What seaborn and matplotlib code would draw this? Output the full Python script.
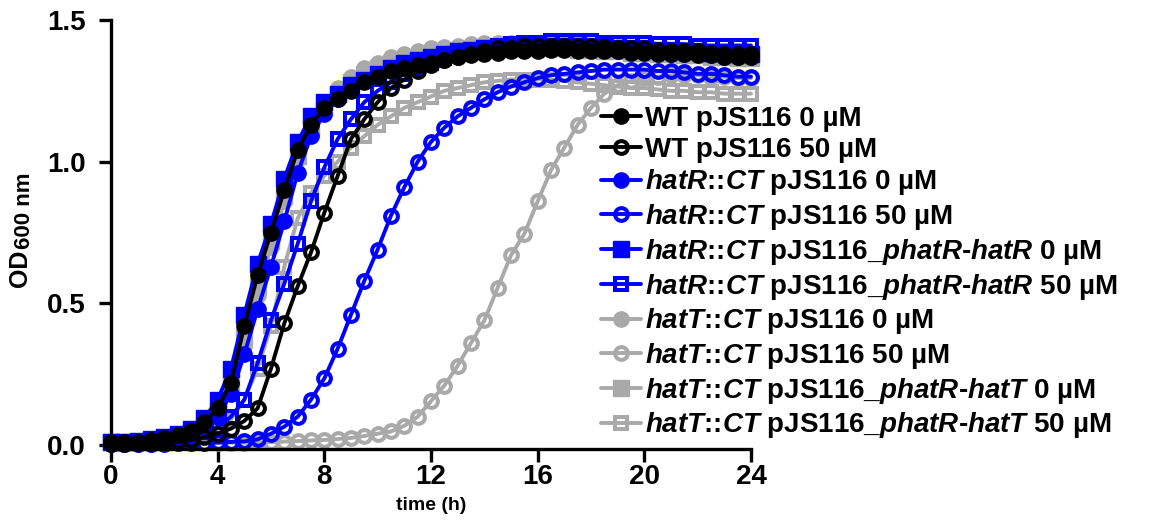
import numpy as np
import matplotlib
matplotlib.use('Agg')
import matplotlib.pyplot as plt
import seaborn as sns

# time points (h), one reading every 30 min
time_h = np.arange(0, 24.5, 0.5)

# OD600 readings
wt_0 = [0.010, 0.010, 0.012, 0.018, 0.025, 0.035, 0.050, 0.080, 0.130, 0.220,
        0.420, 0.600, 0.750, 0.900, 1.040, 1.130, 1.190, 1.220, 1.250, 1.280,
        1.300, 1.320, 1.330, 1.340, 1.350, 1.360, 1.370, 1.375, 1.380, 1.385,
        1.390, 1.390, 1.390, 1.395, 1.395, 1.390, 1.390, 1.390, 1.390, 1.385,
        1.385, 1.380, 1.380, 1.380, 1.375, 1.375, 1.370, 1.370, 1.370]
wt_50 = [0.005, 0.005, 0.006, 0.008, 0.010, 0.013, 0.018, 0.028, 0.040, 0.058,
         0.085, 0.130, 0.270, 0.430, 0.560, 0.680, 0.820, 0.950, 1.080, 1.150,
         1.210, 1.260, 1.290, 1.320, 1.340, 1.360, 1.370, 1.380, 1.390, 1.400,
         1.400, 1.410, 1.410, 1.410, 1.410, 1.410, 1.410, 1.405, 1.400, 1.400,
         1.400, 1.395, 1.390, 1.390, 1.390, 1.385, 1.380, 1.380, 1.380]
hatR_0 = [0.010, 0.008, 0.010, 0.014, 0.020, 0.028, 0.040, 0.065, 0.100, 0.180,
          0.320, 0.480, 0.630, 0.790, 0.960, 1.090, 1.170, 1.220, 1.260, 1.290,
          1.310, 1.330, 1.340, 1.350, 1.360, 1.370, 1.380, 1.385, 1.390, 1.395,
          1.400, 1.400, 1.400, 1.400, 1.400, 1.400, 1.400, 1.395, 1.390, 1.390,
          1.390, 1.385, 1.380, 1.380, 1.380, 1.375, 1.370, 1.370, 1.370]
hatR_50 = [0.005, 0.004, 0.004, 0.005, 0.005, 0.006, 0.007, 0.008, 0.009, 0.011,
           0.013, 0.020, 0.040, 0.065, 0.100, 0.160, 0.235, 0.340, 0.460, 0.580,
           0.690, 0.810, 0.910, 1.000, 1.070, 1.120, 1.160, 1.190, 1.220, 1.245,
           1.265, 1.280, 1.295, 1.305, 1.310, 1.315, 1.320, 1.325, 1.325, 1.325,
           1.325, 1.320, 1.320, 1.315, 1.310, 1.310, 1.305, 1.300, 1.300]
hatR_comp_0 = [0.012, 0.010, 0.013, 0.020, 0.027, 0.038, 0.055, 0.095, 0.160, 0.270,
               0.460, 0.640, 0.780, 0.940, 1.070, 1.160, 1.210, 1.240, 1.270, 1.290,
               1.310, 1.330, 1.350, 1.360, 1.370, 1.380, 1.390, 1.395, 1.400, 1.405,
               1.405, 1.410, 1.410, 1.410, 1.410, 1.410, 1.410, 1.405, 1.400, 1.400,
               1.400, 1.395, 1.395, 1.390, 1.390, 1.385, 1.385, 1.380, 1.380]
hatR_comp_50 = [0.010, 0.008, 0.009, 0.012, 0.016, 0.022, 0.030, 0.045, 0.065, 0.100,
                0.160, 0.290, 0.440, 0.570, 0.710, 0.860, 0.980, 1.080, 1.150, 1.210,
                1.250, 1.280, 1.310, 1.330, 1.350, 1.365, 1.380, 1.390, 1.400, 1.410,
                1.415, 1.420, 1.420, 1.425, 1.425, 1.425, 1.425, 1.420, 1.420, 1.420,
                1.420, 1.415, 1.415, 1.415, 1.410, 1.410, 1.410, 1.410, 1.410]
hatT_0 = [0.010, 0.009, 0.010, 0.013, 0.018, 0.025, 0.035, 0.060, 0.100, 0.190,
          0.350, 0.530, 0.700, 0.860, 1.010, 1.120, 1.200, 1.260, 1.300, 1.330,
          1.350, 1.370, 1.380, 1.390, 1.400, 1.405, 1.410, 1.415, 1.420, 1.420,
          1.420, 1.420, 1.420, 1.420, 1.415, 1.415, 1.410, 1.410, 1.405, 1.400,
          1.400, 1.395, 1.395, 1.390, 1.390, 1.385, 1.385, 1.380, 1.380]
hatT_50 = [0.005, 0.005, 0.005, 0.005, 0.006, 0.006, 0.006, 0.007, 0.007, 0.008,
           0.008, 0.009, 0.010, 0.012, 0.014, 0.016, 0.018, 0.021, 0.025, 0.032,
           0.040, 0.048, 0.068, 0.100, 0.155, 0.210, 0.280, 0.360, 0.440, 0.555,
           0.670, 0.745, 0.860, 0.970, 1.050, 1.130, 1.190, 1.240, 1.270, 1.285,
           1.295, 1.300, 1.305, 1.305, 1.305, 1.300, 1.300, 1.295, 1.295]
hatT_comp_0 = [0.010, 0.010, 0.011, 0.016, 0.022, 0.030, 0.045, 0.070, 0.120, 0.210,
               0.380, 0.560, 0.720, 0.880, 1.020, 1.120, 1.190, 1.240, 1.280, 1.310,
               1.330, 1.350, 1.360, 1.370, 1.380, 1.385, 1.390, 1.395, 1.400, 1.400,
               1.400, 1.400, 1.400, 1.400, 1.400, 1.395, 1.395, 1.390, 1.390, 1.385,
               1.385, 1.380, 1.380, 1.375, 1.375, 1.370, 1.370, 1.365, 1.365]
hatT_comp_50 = [0.008, 0.007, 0.008, 0.010, 0.013, 0.018, 0.025, 0.038, 0.060, 0.090,
                0.160, 0.270, 0.420, 0.630, 0.800, 0.890, 0.950, 1.000, 1.050, 1.090,
                1.130, 1.160, 1.190, 1.210, 1.230, 1.250, 1.260, 1.270, 1.280, 1.285,
                1.290, 1.290, 1.290, 1.290, 1.285, 1.280, 1.275, 1.270, 1.265, 1.260,
                1.260, 1.255, 1.250, 1.250, 1.245, 1.245, 1.240, 1.240, 1.240]

labels = ['WT pJS116 0 µM',
          'WT pJS116 50 µM',
          r'$hatR$::$CT$ pJS116 0 µM',
          r'$hatR$::$CT$ pJS116 50 µM',
          r'$hatR$::$CT$ pJS116_$phatR$-$hatR$ 0 µM',
          r'$hatR$::$CT$ pJS116_$phatR$-$hatR$ 50 µM',
          r'$hatT$::$CT$ pJS116 0 µM',
          r'$hatT$::$CT$ pJS116 50 µM',
          r'$hatT$::$CT$ pJS116_$phatR$-$hatT$ 0 µM',
          r'$hatT$::$CT$ pJS116_$phatR$-$hatT$ 50 µM']
values = [wt_0, wt_50, hatR_0, hatR_50, hatR_comp_0, hatR_comp_50,
          hatT_0, hatT_50, hatT_comp_0, hatT_comp_50]

# styling per series
colors = ['black', 'black', '#0000FF', '#0000FF', '#0000FF', '#0000FF',
          '#A9A9A9', '#A9A9A9', '#A9A9A9', '#A9A9A9']
markers = ['o', 'o', 'o', 'o', 's', 's', 'o', 'o', 's', 's']
filled = [True, False] * 5

sns.set_style('ticks')
plt.rcParams['font.family'] = ['Liberation Sans', 'DejaVu Sans']
plt.rcParams['font.weight'] = 'bold'
plt.rcParams['text.color'] = 'black'
plt.rcParams['axes.labelcolor'] = 'black'
plt.rcParams['axes.edgecolor'] = 'black'
plt.rcParams['xtick.color'] = 'black'
plt.rcParams['ytick.color'] = 'black'
plt.rcParams['mathtext.fontset'] = 'custom'
plt.rcParams['mathtext.it'] = 'Liberation Sans:bold:italic'
plt.rcParams['mathtext.rm'] = 'Liberation Sans:bold'
plt.rcParams['mathtext.bf'] = 'Liberation Sans:bold'

fig = plt.figure(figsize=(11.64, 5.25), dpi=100, facecolor='white')
ax = fig.add_axes([111 / 1164, 76 / 525, 640 / 1164, 429 / 525])

for i in range(len(values)):
    c = colors[i]
    if filled[i]:
        ms, mfc, mew = 11.0, c, 1.0
    else:
        ms, mfc, mew = 9.2, 'none', 2.9
    sns.lineplot(x=time_h, y=values[i], ax=ax, color=c, marker=markers[i],
                 markersize=ms, markerfacecolor=mfc, markeredgecolor=c,
                 markeredgewidth=mew, linewidth=2.8, label=labels[i],
                 zorder=20 - i, clip_on=False)

ax.set_xlim(0, 24)
ax.set_ylim(-0.014, 1.5)
ax.set_xticks(np.arange(0, 25, 4))
ax.set_yticks([0.0, 0.5, 1.0, 1.5])
ax.set_yticklabels(['0.0', '0.5', '1.0', '1.5'])
for s in ['top', 'right']:
    ax.spines[s].set_visible(False)
for s in ['left', 'bottom']:
    ax.spines[s].set_linewidth(2.4)
    ax.spines[s].set_zorder(30)
ax.tick_params(axis='both', width=2.4, length=9, labelsize=20, colors='black')
ax.tick_params(axis='y', pad=9)
ax.tick_params(axis='x', pad=2)
for lab in ax.get_xticklabels() + ax.get_yticklabels():
    lab.set_fontweight('bold')

ax.set_xlabel('time (h)', fontsize=14, fontweight='bold', labelpad=5)
ax.set_ylabel('')
# y label written as two pieces so the subscript keeps a larger size
fig.text(20 / 1164, 1 - 287 / 525, 'OD', rotation=90, ha='center', va='bottom',
         fontsize=18, fontweight='bold')
fig.text(25 / 1164, 1 - 249 / 525, '600 nm', rotation=90, ha='center', va='bottom',
         fontsize=16, fontweight='bold')

handles, labs = ax.get_legend_handles_labels()
leg = ax.legend(handles, labs, loc='upper left',
                bbox_to_anchor=(601 / 1164, 1 - 106 / 525),
                bbox_transform=fig.transFigure, frameon=False,
                fontsize=20, handlelength=1.45, handletextpad=0.15,
                labelspacing=0.17, borderpad=0, borderaxespad=0)
for t in leg.get_texts():
    t.set_fontweight('bold')

plt.savefig('out.png', dpi=100, facecolor='white')
